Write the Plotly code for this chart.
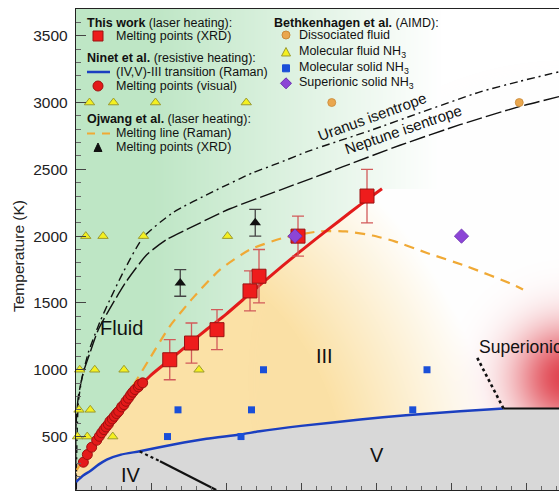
import numpy as np
import plotly.graph_objects as go
import zlib, struct, base64

# ---------------- data (pressure in GPa, temperature in K) ----------------
# This work: melting points (XRD)
THIS_WORK_P = [12.5, 15.4, 18.8, 23.2, 24.4, 29.6, 38.8]
THIS_WORK_T = [1075, 1200, 1300, 1590, 1700, 2000, 2300]
THIS_WORK_ERR = [150, 150, 150, 150, 200, 150, 200]
# fitted melting curve (red line)
MELT_FIT_P = [0.9, 2, 3, 4, 5, 6, 7, 8, 9, 10, 12.5, 15, 17.5, 20, 23, 26, 29, 32, 35, 38, 40.8]
MELT_FIT_T = [300, 410, 485, 570, 645, 715, 790, 855, 905, 960, 1075, 1190, 1305, 1415, 1560, 1705, 1845, 1980, 2110, 2240, 2355]
# Ninet et al.: melting points (visual)
NINET_P = [0.98, 1.51, 2.09, 2.76, 3.11, 3.42, 3.73, 4.0, 4.31, 4.53, 4.84, 5.11,
           5.42, 5.69, 6.09, 6.4, 6.67, 6.98, 7.29, 7.56, 7.87, 8.31, 8.44, 8.89]
NINET_T = [308, 365, 420, 472, 502, 528, 552, 572, 592, 615, 632, 652,
           672, 689, 722, 739, 764, 787, 812, 832, 852, 872, 889, 902]
# Ninet et al.: (IV,V)-III transition (Raman)
BLUE_P = [0, 1, 1.9, 3, 4.1, 6, 8.5, 13, 17.4, 21.9, 24.5, 30, 37.9, 44, 51.2, 57.0]
BLUE_T = [160, 210, 242, 290, 328, 365, 390, 440, 483, 515, 540, 580, 627, 660, 689, 710]
# Ojwang et al.: melting line (Raman) and melting points (XRD)
OJ_LINE_P = [0.1, 1, 2, 4, 6, 7, 8.3, 9.6, 12.5, 15.6, 19.2, 23.2, 27.6, 32.5, 36, 39.5,
             42.5, 46.8, 52.1, 58.3, 59.6]
OJ_LINE_T = [250, 330, 410, 575, 730, 827, 944, 1063, 1325, 1538, 1749, 1899, 1986, 2036, 2035, 2005,
             1961, 1874, 1774, 1637, 1600]
OJ_PTS_P = [13.9, 23.9]
OJ_PTS_T = [1650, 2100]
OJ_PTS_ERR = [100, 100]
# Bethkenhagen et al. (AIMD)
DISS_P = [34.1, 59.1]
DISS_T = [3000, 3000]
MOL_FLUID_P = [1.8, 5.0, 10.6, 22.7, 1.3, 3.6, 9.0, 20.2, 0.5, 2.5, 6.4, 16.4, 0.4, 1.9, 5.5, 0.2, 1.5, 4.9]
MOL_FLUID_T = [3000, 3000, 3000, 3000, 2000, 2000, 2000, 2000, 1000, 1000, 1000, 1000,
               700, 700, 700, 500, 500, 500]
MOL_SOLID_P = [12.2, 22.0, 13.6, 23.4, 44.9, 25.0, 46.8]
MOL_SOLID_T = [500, 500, 700, 700, 700, 1000, 1000]
SUPERIONIC_P = [29.2, 51.4, 64.5]
SUPERIONIC_T = [2000, 2000, 700]
# other phase boundaries
IVV_DOT_P, IVV_DOT_T = [8.5, 11.2], [388, 315]
IVV_SOLID_P, IVV_SOLID_T = [11.2, 18.7], [315, 100]
III_SI_P, III_SI_T = [57.0, 53.4], [710, 1100]
V_SI_P, V_SI_T = [57.0, 65.0], [710, 710]
# planetary isentropes
URANUS_P = [0.04, 0.13, 0.31, 0.76, 1.64, 3.2, 4.53, 6.27, 8.93, 12.93, 18.27, 23.6, 26.8, 31.2, 39.2, 45.9, 53.9, 59.1, 64.4]
URANUS_T = [104, 478, 754, 926, 1128, 1360, 1525, 1727, 1989, 2176, 2333, 2475, 2542, 2640, 2790, 2924, 3080, 3158, 3230]
NEPTUNE_P = [0.0, 0.0, 0.31, 0.97, 1.87, 2.97, 4.53, 6.76, 9.43, 12.09, 14.76, 20.53, 27.2, 35.6, 43.2, 51.2, 59.1, 64.4]
NEPTUNE_T = [104, 575, 799, 979, 1128, 1300, 1460, 1665, 1860, 1975, 2050, 2205, 2345, 2520, 2680, 2834, 2969, 3044]

# ---------------- geometry ----------------
FIG_W, FIG_H = 559, 495
PX0, PY0, PX1, PY1 = 76, 9, 559, 490        # plot area in pixels
M_L, M_T, M_R, M_B = PX0, PY0, FIG_W - PX1, FIG_H - PY1
PW, PH = PX1 - PX0, PY1 - PY0
P_RANGE = [0, 64.4]
T_RANGE = [100, 3700]
FONT = "Liberation Sans, Arial, Helvetica, sans-serif"


def paper(x, y):
    return (x - PX0) / PW, (PY1 - y) / PH


# ---------------- background shading (phase regions) ----------------
X = np.arange(PW) + 0.5
Y = np.arange(PH) + 0.5
XX, YY = np.meshgrid(X, Y)
PP = P_RANGE[0] + XX / PW * (P_RANGE[1] - P_RANGE[0])
TT = T_RANGE[1] - YY / PH * (T_RANGE[1] - T_RANGE[0])
tb = np.where(PP < BLUE_P[-1], np.interp(PP, BLUE_P, BLUE_T), V_SI_T[0])
tm = np.interp(PP, MELT_FIT_P, MELT_FIT_T)

white = np.array([255.0, 255, 255])
green = np.array([190.0, 230, 197])
peach = np.array([251.0, 225, 166])
grey = np.array([216.0, 216, 216])
red = np.array([222.0, 52, 64])

ag = np.clip((365 - XX) / 290, 0, 1)[..., None]
dp = np.sqrt(XX ** 2 + (PH - YY) ** 2)
ap = np.clip((420 - dp) / 150, 0, 1)[..., None]
img_green = white * (1 - ag) + green * ag
img_peach = white * (1 - ap) + peach * ap
img = np.where((TT < tm)[..., None], img_peach, img_green)
dr = np.sqrt((XX - 490) ** 2 + (YY - 369) ** 2)
ar = (0.92 * np.exp(-(dr / 52) ** 2))[..., None]
img = img * (1 - ar) + red * ar
img = np.where((TT < tb)[..., None], grey, img)
img = np.clip(img, 0, 255).astype(np.uint8)


def png_uri(rgb):
    h, w, _ = rgb.shape
    raw = b"".join(b"\x00" + rgb[r].tobytes() for r in range(h))

    def chunk(tag, data):
        c = struct.pack(">I", len(data)) + tag + data
        return c + struct.pack(">I", zlib.crc32(tag + data) & 0xFFFFFFFF)

    png = (b"\x89PNG\r\n\x1a\n" + chunk(b"IHDR", struct.pack(">IIBBBBB", w, h, 8, 2, 0, 0, 0))
           + chunk(b"IDAT", zlib.compress(raw, 9)) + chunk(b"IEND", b""))
    return "data:image/png;base64," + base64.b64encode(png).decode()


fig = go.Figure()

# ---------------- lines ----------------
def line(p, t, color, width, dash="solid"):
    fig.add_trace(go.Scatter(x=p, y=t, mode="lines", line=dict(color=color, width=width, dash=dash, shape="spline", smoothing=0.6),
                             hoverinfo="skip", showlegend=False))

line(URANUS_P, URANUS_T, "#111111", 1.4, "8px,4px,2px,4px")
line(NEPTUNE_P, NEPTUNE_T, "#111111", 1.4, "16px,4px")
line(OJ_LINE_P, OJ_LINE_T, "#f0a935", 2.2, "10px,7px")
line(BLUE_P, BLUE_T, "#1b3fc0", 2.5)
line(IVV_DOT_P, IVV_DOT_T, "#111111", 2.2, "dot")
line(IVV_SOLID_P, IVV_SOLID_T, "#111111", 2.2)
line(III_SI_P, III_SI_T, "#111111", 2.6, "dot")
line(V_SI_P, V_SI_T, "#111111", 2.2)
line(MELT_FIT_P, MELT_FIT_T, "#e31b1b", 3)

# ---------------- markers ----------------
fig.add_trace(go.Scatter(x=MOL_FLUID_P, y=MOL_FLUID_T, mode="markers", cliponaxis=False,
                         marker=dict(symbol="triangle-up", size=9, color="#f4f020",
                                     line=dict(color="#9a9a30", width=1)), showlegend=False))
fig.add_trace(go.Scatter(x=MOL_SOLID_P, y=MOL_SOLID_T, mode="markers",
                         marker=dict(symbol="square", size=7, color="#1a4fd8"), showlegend=False))
fig.add_trace(go.Scatter(x=DISS_P, y=DISS_T, mode="markers",
                         marker=dict(symbol="circle", size=8, color="#eaa74e",
                                     line=dict(color="#c98a3a", width=0.8)), showlegend=False))
fig.add_trace(go.Scatter(x=NINET_P, y=NINET_T, mode="markers",
                         marker=dict(symbol="circle", size=10, color="#e41a1a",
                                     line=dict(color="#a01010", width=1)), showlegend=False))
fig.add_trace(go.Scatter(x=THIS_WORK_P, y=THIS_WORK_T, mode="markers",
                         error_y=dict(type="data", array=THIS_WORK_ERR, color="#d25a5a", thickness=1.3, width=6),
                         marker=dict(symbol="square", size=14, color="#ee1c1c",
                                     line=dict(color="#9b1212", width=1)), showlegend=False))
fig.add_trace(go.Scatter(x=OJ_PTS_P, y=OJ_PTS_T, mode="markers",
                         error_y=dict(type="data", array=OJ_PTS_ERR, color="#444444", thickness=1.3, width=6),
                         marker=dict(symbol="triangle-up", size=10, color="#111111"), showlegend=False))
fig.add_trace(go.Scatter(x=SUPERIONIC_P, y=SUPERIONIC_T, mode="markers",
                         marker=dict(symbol="diamond", size=11, color="#8c45d6",
                                     line=dict(color="#6a2fb0", width=0.8)), showlegend=False))

# ---------------- annotations ----------------
ann = []


def text_px(x, y, s, size=12.5, anchor="left", color="#111111"):
    px, py = paper(x, y)
    ann.append(dict(x=px, y=py, xref="paper", yref="paper", text=s, showarrow=False,
                    xanchor=anchor, yanchor="middle", font=dict(size=size, color=color, family=FONT)))


text_px(85, 22.7, "<b>This work</b> (laser heating):")
text_px(114, 36, "Melting points (XRD)")
text_px(85, 58.3, "<b>Ninet et al.</b> (resistive heating):")
text_px(114, 71.7, "(IV,V)-III transition (Raman)")
text_px(114, 86, "Melting points (visual)")
text_px(85, 119.3, "<b>Ojwang et al.</b> (laser heating):")
text_px(114, 133.3, "Melting line (Raman)")
text_px(114, 147.3, "Melting points (XRD)")
text_px(272, 22.7, "<b>Bethkenhagen et al.</b> (AIMD):")
text_px(297, 35, "Dissociated fluid")
text_px(297, 51.7, "Molecular fluid NH<sub>3</sub>")
text_px(297, 68.3, "Molecular solid NH<sub>3</sub>")
text_px(297, 83.3, "Superionic solid NH<sub>3</sub>")

# axis title
tx, ty = paper(18, 256)
ann.append(dict(x=tx, y=ty, xref="paper", yref="paper", text="Temperature (K)", showarrow=False,
                textangle=-90, xanchor="center", yanchor="middle", font=dict(size=15.5, color="#222222", family=FONT)))


def text_data(p, t, s, size, angle=0, anchor="center"):
    ann.append(dict(x=p, y=t, xref="x", yref="y", text=s, showarrow=False, textangle=angle,
                    xanchor=anchor, yanchor="middle", font=dict(size=size, color="#111111", family=FONT)))


text_data(6.1, 1315, "Fluid", 20)
text_data(33.1, 1106, "III", 20)
text_data(7.3, 216, "IV", 20)
text_data(40.1, 365, "V", 20)
text_data(53.4, 1173, "Superionic", 17.5, anchor="left")
text_data(39.5, 2895, "Uranus isentrope", 15, angle=-20)
text_data(43.6, 2795, "Neptune isentrope", 15, angle=-19)

# ---------------- legend glyphs (shapes in paper space) ----------------
shapes = []


def rect_px(cx, cy, half, fill, linec):
    x0, y0 = paper(cx - half, cy + half)
    x1, y1 = paper(cx + half, cy - half)
    shapes.append(dict(type="rect", xref="paper", yref="paper", x0=x0, y0=y0, x1=x1, y1=y1,
                       fillcolor=fill, line=dict(color=linec, width=1)))


def circ_px(cx, cy, r, fill, linec):
    x0, y0 = paper(cx - r, cy + r)
    x1, y1 = paper(cx + r, cy - r)
    shapes.append(dict(type="circle", xref="paper", yref="paper", x0=x0, y0=y0, x1=x1, y1=y1,
                       fillcolor=fill, line=dict(color=linec, width=1)))


def seg_px(xa, xb, y, color, width, dash="solid"):
    x0, y0 = paper(xa, y)
    x1, y1 = paper(xb, y)
    shapes.append(dict(type="line", xref="paper", yref="paper", x0=x0, y0=y0, x1=x1, y1=y1,
                       line=dict(color=color, width=width, dash=dash)))


def poly_px(pts, fill, linec):
    pp = [paper(x, y) for x, y in pts]
    path = "M " + " L ".join(f"{a:.5f},{b:.5f}" for a, b in pp) + " Z"
    shapes.append(dict(type="path", xref="paper", yref="paper", path=path,
                       fillcolor=fill, line=dict(color=linec, width=1)))


rect_px(98, 36, 5, "#ee1c1c", "#9b1212")
seg_px(87, 110, 72, "#1b3fc0", 2.5)
circ_px(98, 86, 5, "#e41a1a", "#a01010")
seg_px(87, 110, 133.5, "#f0a935", 2.2, "8px,7px")
poly_px([(94, 151.5), (102, 151.5), (98, 143)], "#111111", "#111111")
circ_px(286, 35, 4, "#eaa74e", "#c98a3a")
poly_px([(281.5, 56), (290.5, 56), (286, 47.5)], "#f4f020", "#9a9a30")
rect_px(286, 68.3, 3.5, "#1a4fd8", "#1a4fd8")
poly_px([(286, 77.8), (291.5, 83.3), (286, 88.8), (280.5, 83.3)], "#8c45d6", "#6a2fb0")

fig.update_layout(
    width=FIG_W, height=FIG_H,
    margin=dict(l=M_L, r=M_R, t=M_T, b=M_B, pad=0, autoexpand=False),
    paper_bgcolor="white", plot_bgcolor="white",
    font=dict(family=FONT, color="#222222"),
    showlegend=False,
    annotations=ann, shapes=shapes,
    images=[dict(source=png_uri(img), xref="x", yref="y", x=P_RANGE[0], y=T_RANGE[1],
                 sizex=P_RANGE[1] - P_RANGE[0], sizey=T_RANGE[1] - T_RANGE[0],
                 sizing="stretch", xanchor="left", yanchor="top", layer="below")],
    xaxis=dict(range=P_RANGE, showgrid=False, zeroline=False, showline=True, linecolor="#222222",
               linewidth=1.2, mirror=True, ticks="inside", ticklen=7, tickcolor="#444444", dtick=10, tick0=0,
               showticklabels=False, automargin=False,
               minor=dict(ticks="inside", ticklen=4, dtick=2, tickcolor="#666666")),
    yaxis=dict(range=T_RANGE, showgrid=False, zeroline=False, showline=True, linecolor="#222222",
               linewidth=1.2, ticks="inside", ticklen=10, tickcolor="#444444", dtick=500, tick0=0,
               tickfont=dict(size=15.5, color="#222222", family=FONT), ticklabelstandoff=4, automargin=False,
               minor=dict(ticks="inside", ticklen=5, dtick=100, tickcolor="#666666")),
)

# remove the page's default 8px body margin so the figure fills the window exactly
fig.write_html("out.html", config={"displayModeBar": False, "staticPlot": True},
               post_script="document.body.style.margin='0';document.body.style.overflow='hidden';")
